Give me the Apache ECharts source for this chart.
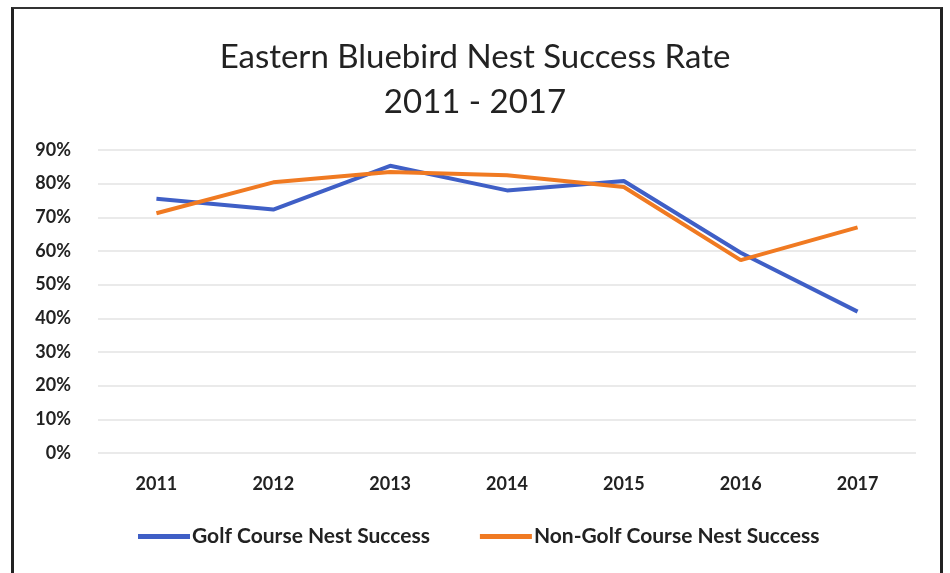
<!DOCTYPE html>
<html>
<head>
<meta charset="utf-8">
<script src="https://cdn.jsdelivr.net/npm/echarts@6/dist/echarts.min.js"></script>
<style>
  html, body { margin: 0; padding: 0; background: #fff; }
  #frame {
    position: absolute; left: 11px; top: 7px; width: 932px; height: 566px;
    border-left: 3px solid #222; border-top: 2px solid #333; border-right: 3px solid #222;
    box-sizing: border-box;
  }
  #chart { position: absolute; left: 0; top: 0; width: 950px; height: 573px; }
</style>
</head>
<body>
<div id="chart"></div>
<div id="frame"></div>
<script>
const years = ["2011", "2012", "2013", "2014", "2015", "2016", "2017"];
const golfCourse = [75.5, 72.3, 85.3, 78, 80.8, 59.5, 42];
const nonGolfCourse = [71.2, 80.4, 83.5, 82.5, 79, 57.3, 67];

const chart = echarts.init(document.getElementById("chart"));

chart.setOption({
  animation: false,
  backgroundColor: "#fff",
  title: {
    text: "Eastern Bluebird Nest Success Rate\n2011 - 2017",
    left: "center",
    top: 30,
    textStyle: {
      fontFamily: "Lato",
      fontWeight: "normal",
      fontSize: 33,
      lineHeight: 45,
      color: "#222"
    }
  },
  grid: { left: 98, right: 34, top: 150, bottom: 120 },
  legend: {
    left: 138,
    top: 526,
    padding: 0,
    itemWidth: 52,
    itemHeight: 5,
    itemGap: 50,
    icon: "rect",
    textStyle: { fontFamily: "Lato", fontWeight: "bold", fontSize: 21, color: "#222", padding: [0, 0, 0, -3] },
    data: ["Golf Course Nest Success", "Non-Golf Course Nest Success"]
  },
  xAxis: {
    type: "category",
    data: years,
    axisLine: { show: false },
    axisTick: { show: false },
    axisLabel: { margin: 22, fontFamily: "Lato", fontWeight: "bold", fontSize: 18, color: "#222" }
  },
  yAxis: {
    type: "value",
    min: 0,
    max: 90,
    interval: 10,
    axisLabel: {
      formatter: "{value}%",
      margin: 27,
      fontFamily: "Lato",
      fontWeight: "bold",
      fontSize: 18,
      color: "#222"
    },
    splitLine: { lineStyle: { color: "#e3e3e3", width: 1.5 } }
  },
  series: [
    {
      name: "Golf Course Nest Success",
      type: "line",
      data: golfCourse,
      showSymbol: false,
      lineStyle: { color: "#3f5fc6", width: 4 },
      itemStyle: { color: "#3f5fc6" }
    },
    {
      name: "Non-Golf Course Nest Success",
      type: "line",
      data: nonGolfCourse,
      showSymbol: false,
      lineStyle: { color: "#f07a22", width: 4 },
      itemStyle: { color: "#f07a22" }
    }
  ]
});
</script>
</body>
</html>
